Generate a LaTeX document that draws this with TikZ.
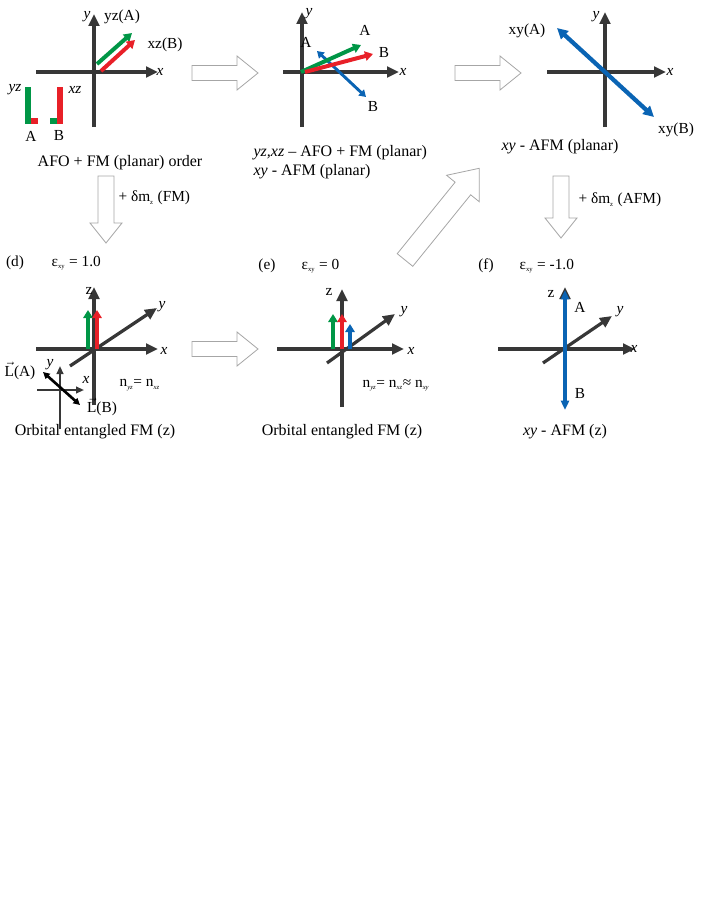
\documentclass[tikz,border=0pt]{standalone}
\usepackage{fontspec}
\setmainfont{Liberation Serif}
\usetikzlibrary{arrows.meta}
\definecolor{gr}{RGB}{0,150,70}
\definecolor{rd}{RGB}{232,32,40}
\definecolor{bl}{RGB}{10,100,180}
\definecolor{ax}{RGB}{55,55,55}
\tikzset{
 axis/.style={ax,line width=2.4pt,-{Triangle[length=9pt,width=8pt]}},
 axisn/.style={ax,line width=2.4pt},
 spin/.style={line width=3pt,-{Triangle[length=6pt,width=7pt]}},
 dspin/.style={line width=2.2pt,{Triangle[length=5pt,width=6pt]}-{Triangle[length=5pt,width=6pt]}},
 lbl/.style={inner sep=1pt,font=\fontsize{11.5}{13}\selectfont},
 captxt/.style={inner sep=1pt,font=\fontsize{12}{14.5}\selectfont,align=left},
 hollowline/.style={draw=black!35,fill=white,line width=0.6pt,line join=miter},
 pics/harrow/.style args={#1/#2/#3/#4}{code={
   % length #1, head length #2, shaft half width #3, head half width #4 ; starts at origin pointing +x
   \draw[hollowline] (0,-#3) -- ({#1-#2},-#3) -- ({#1-#2},-#4) -- (#1,0) -- ({#1-#2},#4) -- ({#1-#2},#3) -- (0,#3) -- cycle;
 }},
}
\begin{document}
\begin{tikzpicture}[x=0.75pt,y=-0.75pt]
\useasboundingbox (0,0) rectangle (708,917);
% ---------- panel a
\coordinate (oa) at (94,72);
\draw[axisn] (94,127) -- (oa);
\draw[axis] (36,72) -- (158,72);
\draw[axis] (oa) -- (94,14);
\node[lbl] (ya) at (87,17) {\itshape y};
\node[lbl] (xa) at (160,72) {\itshape x};
\draw[spin,gr] (97,64) -- (132,33);
\draw[spin,rd] (101,71) -- (135,40);
\node[lbl] (yzA) at (122,17) {yz(A)};
\node[lbl] (xzB) at (165,45) {xz(B)};
\fill[gr] (25,87) rectangle (31,124);
\fill[rd] (31,118) rectangle (38,124);
\fill[rd] (57,87) rectangle (63,124);
\fill[gr] (50,118) rectangle (57,124);
\node[lbl] (lyz) at (15,90) {\itshape yz};
\node[lbl] (lxz) at (75,90) {\itshape xz};
\node[lbl] (lA) at (31,136) {A};
\node[lbl] (lB) at (59,136) {B};
\node[captxt] (capa) at (120,163) {AFO + FM (planar) order};
% ---------- panel b
\coordinate (ob) at (302,72);
\draw[axisn] (302,127) -- (ob);
\draw[axis] (283,72) -- (399,72);
\draw[axis] (ob) -- (302,12);
\node[lbl] (yb) at (309,14) {\itshape y};
\node[lbl] (xb) at (403,72) {\itshape x};
\draw[dspin,bl] (317,51) -- (366,97);
\draw[spin,gr] (301,72) -- (361,45);
\draw[spin,rd] (305,72) -- (373,54);
\node[lbl] (bA1) at (306,42) {A};
\node[lbl] (bA2) at (365,30) {A};
\node[lbl] (bB1) at (384,53) {B};
\node[lbl] (bB2) at (373,107) {B};
\node[captxt,anchor=west] (capb) at (252,162) {\itshape yz,xz\upshape{} -- AFO + FM (planar)\\\itshape xy\upshape{} - AFM (planar)};
% ---------- panel c
\coordinate (oc) at (605,72);
\draw[axisn] (605,127) -- (oc);
\draw[axis] (547,72) -- (666,72);
\draw[axis] (oc) -- (605,12);
\node[lbl] (yc) at (596,17) {\itshape y};
\node[lbl] (xc) at (670,72) {\itshape x};
\draw[bl,line width=3.2pt,{Triangle[length=8pt,width=8pt]}-{Triangle[length=8pt,width=8pt]}] (557,28) -- (654,117);
\node[lbl] (cA) at (527,31) {xy(A)};
\node[lbl] (cB) at (676,130) {xy(B)};
\node[captxt] (capc) at (560,147) {\itshape xy\upshape{} - AFM (planar)};
% ---------- hollow arrows
\pic at (192,73) {harrow=66/21/7.5/17};
\pic at (455,73) {harrow=66/21/7.5/17};
\pic at (192,349) {harrow=66/21/7.5/17};
\pic[rotate=-90] at (106,176) {harrow=67/20/8/16};
\pic[rotate=-90] at (561,176) {harrow=62/20/8/16};
\pic[rotate=51] at (405,260) {harrow=118/26/10/21};
\node[lbl,anchor=west] (dm1) at (117,198) {+ δm\textsubscript{\tiny z} (FM)};
\node[lbl,anchor=west] (dm2) at (577,200) {+ δm\textsubscript{\tiny z} (AFM)};
% ---------- panel d
\node[lbl] (dl) at (15,263) {(d)};
\node[lbl,anchor=west] (de) at (50,263) {ε\textsubscript{\tiny xy} = 1.0};
\coordinate (od) at (94,349);
\draw[axisn] (94,405) -- (od);
\draw[axis] (36,349) -- (158,349);
\draw[axis] (od) -- (94,287);
\draw[axis] (70,366) -- (157,308);
\node[lbl] (zd) at (89,291) {z};
\node[lbl] (yd) at (162,307) {\itshape y};
\node[lbl] (xd) at (164,351) {\itshape x};
\draw[spin,gr] (88,349) -- (88,310);
\draw[spin,rd] (97,349) -- (97,310);
\draw[ax,line width=1.4pt,-{Triangle[length=6pt,width=5pt]}] (60,429) -- (60,366);
\draw[ax,line width=1.4pt,-{Triangle[length=6pt,width=5pt]}] (37,390) -- (84,390);
\draw[black,line width=2pt,{Triangle[length=5pt,width=5pt]}-{Triangle[length=5pt,width=5pt]}] (43,372) -- (80,405);
\node[lbl] (yi) at (50,365) {\itshape y};
\node[lbl] (xi) at (86,380) {\itshape x};
\node[lbl] (LA) at (20,371) {$\vec{\mathrm{L}}$(A)};
\node[lbl] (LB) at (102,407) {$\vec{\mathrm{L}}$(B)};
\node[lbl,anchor=west] (nd) at (118,385) {n\textsubscript{\tiny\itshape yz}= n\textsubscript{\tiny\itshape xz}};
\node[captxt] (capd) at (95,432) {Orbital entangled FM (z)};
% ---------- panel e
\node[lbl] (el) at (267,266) {(e)};
\node[lbl,anchor=west] (ee) at (300,266) {ε\textsubscript{\tiny xy} = 0};
\coordinate (oe) at (342,349);
\draw[axisn] (342,407) -- (oe);
\draw[axis] (277,349) -- (404,349);
\draw[axis] (oe) -- (342,289);
\draw[axis] (327,363) -- (395,314);
\node[lbl] (ze) at (329,292) {z};
\node[lbl] (ye) at (404,312) {\itshape y};
\node[lbl] (xe) at (411,351) {\itshape x};
\draw[spin,gr] (333,349) -- (333,314);
\draw[spin,rd] (342,349) -- (342,314);
\draw[spin,bl] (350,349) -- (350,324);
\node[lbl,anchor=west] (ne) at (361,385) {n\textsubscript{\tiny\itshape yz}= n\textsubscript{\tiny\itshape xz}≈ n\textsubscript{\tiny\itshape xy}};
\node[captxt] (cape) at (342,432) {Orbital entangled FM (z)};
% ---------- panel f
\node[lbl] (fl) at (486,266) {(f)};
\node[lbl,anchor=west] (fe) at (518,266) {ε\textsubscript{\tiny xy} = -1.0};
\coordinate (of) at (565,349);
\draw[axis] (498,349) -- (635,349);
\draw[axis] (543,363) -- (612,316);
\draw[axisn] (565,349) -- (565,300);
\draw[ax,-{Triangle[length=9pt,width=8pt]},line width=2.4pt] (565,300) -- (565,287);
\draw[bl,line width=2.6pt,{Triangle[length=7pt,width=6pt]}-{Triangle[length=7pt,width=6pt]}] (565,290) -- (565,410);
\node[lbl] (zf) at (551,294) {z};
\node[lbl] (yf) at (620,312) {\itshape y};
\node[lbl] (xf) at (634,349) {\itshape x};
\node[lbl] (fA) at (580,307) {A};
\node[lbl] (fB) at (580,393) {B};
\node[captxt] (capf) at (565,432) {\itshape xy\upshape{} - AFM (z)};
\end{tikzpicture}
\end{document}
